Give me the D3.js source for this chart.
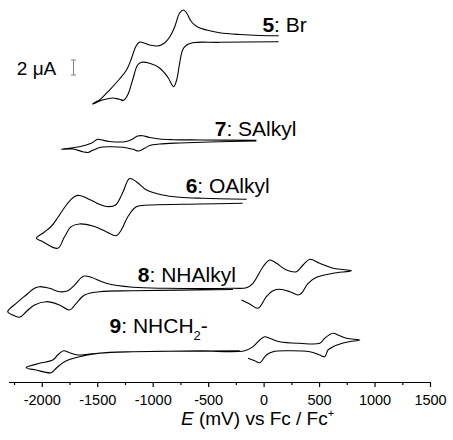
<!DOCTYPE html>
<html>
<head>
<meta charset="utf-8">
<script src="https://cdn.jsdelivr.net/npm/d3@7.9.0/dist/d3.min.js"></script>
<style>
  body { margin: 0; background: #fff; }
  svg { display: block; font-family: "Liberation Sans", Arial, sans-serif; }
</style>
</head>
<body>
<svg id="chart" width="453" height="440"></svg>
<script>
// E in mV vs Fc/Fc+, current in uA (traces already stacked by offset)
const trace5 = [
  [136, 46.17], [-35, 46.2], [-216, 46.33], [-397, 46.57], [-514, 46.93], [-595, 47.33],
  [-649, 48.0], [-694, 49.2], [-721, 49.6], [-757, 49.2], [-802, 47.33], [-847, 46.0],
  [-893, 45.2], [-956, 44.8], [-1028, 44.93], [-1118, 45.33], [-1154, 44.67], [-1190, 43.2],
  [-1236, 41.6], [-1299, 40.4], [-1389, 38.93], [-1479, 37.6], [-1515, 37.33], [-1542, 37.07],
  [-1515, 37.2], [-1479, 37.47], [-1416, 37.73], [-1362, 37.87], [-1299, 37.69], [-1263, 37.56],
  [-1226, 38.27], [-1181, 40.27], [-1136, 42.27], [-1100, 42.63], [-1028, 42.49], [-938, 41.87],
  [-865, 40.67], [-811, 39.37], [-784, 40.27], [-757, 42.53], [-730, 44.27], [-694, 44.93],
  [-640, 45.24], [-397, 45.29], [136, 45.37]
];

const trace7 = [
  [-65, 32.23], [-577, 32.27], [-820, 32.31], [-938, 32.4], [-1028, 32.6], [-1091, 32.84],
  [-1136, 32.8], [-1181, 32.4], [-1238, 32.07], [-1389, 32.07], [-1464, 32.29], [-1495, 32.36],
  [-1554, 31.83], [-1660, 31.37], [-1825, 31.03],
  [-1720, 31.07], [-1630, 30.71], [-1585, 30.6], [-1540, 30.89], [-1479, 31.27], [-1389, 31.36],
  [-1269, 31.29], [-1179, 31.03], [-1127, 30.8], [-1073, 31.16], [-1028, 31.53], [-938, 31.73],
  [-757, 31.87], [-486, 32.0], [-65, 32.13]
];

const trace6 = [
  [-153, 24.36], [-550, 24.49], [-757, 24.63], [-911, 24.93], [-1055, 25.6], [-1145, 26.67],
  [-1208, 27.13], [-1272, 25.2], [-1335, 23.6], [-1416, 23.4], [-1506, 23.87], [-1597, 24.53],
  [-1660, 24.87], [-1696, 24.8], [-1750, 24.13], [-1804, 23.07], [-1858, 21.87], [-1912, 20.8],
  [-1976, 20.0], [-2048, 19.16],
  [-1991, 18.71], [-1856, 17.83], [-1795, 19.37], [-1735, 20.71], [-1660, 21.07], [-1540, 20.8],
  [-1419, 20.04], [-1328, 19.51], [-1283, 20.27], [-1224, 22.04], [-1148, 23.37], [-1028, 23.6],
  [-577, 23.73], [-189, 23.83]
];

const trace8 = [
  [-200, 10.93], [-125, 10.4], [-51, 9.83], [25, 11.37], [85, 12.17], [145, 12.36],
  [236, 12.04], [310, 11.6], [341, 11.83], [401, 13.16], [477, 13.96], [626, 14.49],
  [792, 14.84], [626, 15.16], [506, 15.83], [416, 16.36], [356, 15.6], [296, 14.71],
  [206, 14.93], [116, 15.83], [55, 16.27], [-5, 15.37], [-96, 13.16], [-155, 12.57],
  [-279, 12.49], [-877, 12.49], [-1179, 12.63], [-1419, 13.16], [-1554, 13.96], [-1615, 14.13],
  [-1644, 13.91], [-1705, 12.93], [-1765, 12.17], [-1840, 12.04], [-1930, 12.49], [-2021, 12.71],
  [-2066, 12.49], [-2141, 11.6], [-2231, 10.49], [-2307, 9.37],
  [-2262, 8.93], [-2201, 8.63], [-2141, 9.37], [-2066, 10.27], [-1960, 10.71], [-1840, 10.27],
  [-1750, 9.6], [-1689, 10.49], [-1615, 11.6], [-1479, 12.04], [-1179, 12.17], [-276, 12.33]
];

const trace9 = [
  [-141, 3.16], [-80, 2.84], [-35, 2.57], [25, 3.6], [85, 4.04], [206, 4.17],
  [416, 4.04], [506, 3.6], [551, 3.37], [581, 4.27], [626, 4.71], [747, 5.29],
  [867, 5.6], [747, 5.83], [671, 6.27], [626, 6.49], [551, 5.83], [506, 5.16],
  [326, 5.16], [145, 5.37], [55, 5.83], [10, 6.04], [-35, 5.6], [-96, 4.71],
  [-171, 4.17], [-577, 4.13], [-1179, 4.04], [-1389, 3.96], [-1569, 3.73], [-1675, 3.6],
  [-1750, 3.91], [-1804, 4.17], [-1856, 3.6], [-1901, 2.93], [-2021, 2.49], [-2141, 1.91],
  [-2050, 1.6], [-1915, 1.24], [-1870, 1.83], [-1795, 2.71], [-1660, 3.37], [-1479, 3.83],
  [-1179, 4.04], [-216, 4.17]
];

const compoundIds = ['5', '7', '6', '8', '9'];
const substituents = [': Br', ': SAlkyl', ': OAlkyl', ': NHAlkyl', ': NHCH'];
const majorTicks = [-2000, -1500, -1000, -500, 0, 500, 1000, 1500];
const minorTicks = [-2250, -1750, -1250, -750, -250, 250, 750, 1250];
const scaleBar = [40.93, 42.93]; // 2 uA

const svg = d3.select('#chart');
svg.append('rect').attr('width', 453).attr('height', 440).attr('fill', '#fff');

const x = d3.scaleLinear().domain([-2300, 1500]).range([8.5, 430]);
const y = d3.scaleLinear().domain([0, 50]).range([382, 7]);

const line = d3.line()
  .x(d => x(d[0]))
  .y(d => y(d[1]))
  .curve(d3.curveCatmullRom.alpha(0.5));

const traces = [trace5, trace7, trace6, trace8, trace9];

svg.append('g')
  .selectAll('path')
  .data(traces)
  .enter()
  .append('path')
  .attr('d', line)
  .attr('fill', 'none')
  .attr('stroke', '#000')
  .attr('stroke-width', 1.1)
  .attr('stroke-linejoin', 'round');

// labels, anchored in data coordinates
const labelPos = [[-11, 46.7], [-441, 32.8], [-703, 25.16], [-1134, 13.37], [-1389, 6.49]];
const labels = svg.append('g').attr('font-size', 21).attr('fill', '#000');
compoundIds.forEach((id, i) => {
  let t = labels.append('text')
    .attr('x', x(labelPos[i][0]))
    .attr('y', y(labelPos[i][1]));
  t.append('tspan').attr('font-weight', 'bold').text(id);
  t.append('tspan').text(substituents[i]);
  if (id === '9') {
    t.append('tspan').attr('font-size', 13).attr('dy', 7).text('2');
    t.append('tspan').attr('dy', -7).text('-');
  }
});

// scale bar
const sbX = x(-1714);
const sb = svg.append('g').attr('stroke', '#808080').attr('stroke-width', 1);
sb.append('line').attr('x1', sbX).attr('x2', sbX).attr('y1', y(scaleBar[0])).attr('y2', y(scaleBar[1]));
scaleBar.forEach(v => {
  sb.append('line').attr('x1', sbX - 2.5).attr('x2', sbX + 2.5).attr('y1', y(v)).attr('y2', y(v));
});
svg.append('text')
  .attr('x', x(-2225))
  .attr('y', y(40.93))
  .attr('font-size', 19)
  .text('2 \u03bcA');

// x axis
const axis = svg.append('g').attr('transform', `translate(0,${y(0)})`);
axis.call(d3.axisBottom(x).tickValues(majorTicks).tickSize(5).tickSizeOuter(0).tickPadding(8)
  .tickFormat(d => String(d)));
axis.selectAll('text').attr('font-size', 14.5).attr('font-family', '"Liberation Sans", Arial, sans-serif');
axis.select('.domain').attr('stroke-width', 1.2);
axis.selectAll('.tick line').attr('stroke-width', 1.2);

const minor = svg.append('g').attr('transform', `translate(0,${y(0)})`);
minor.call(d3.axisBottom(x).tickValues(minorTicks).tickSize(3).tickFormat(''));
minor.select('.domain').remove();
minor.selectAll('.tick line').attr('stroke-width', 1.2);

// axis title
const title = svg.append('text')
  .attr('x', 181)
  .attr('y', 425)
  .attr('font-size', 19);
title.append('tspan').attr('font-style', 'italic').text('E');
title.append('tspan').text(' (mV) vs Fc / Fc');
title.append('tspan').attr('font-size', 11).attr('dy', -8).text('+');
</script>
</body>
</html>
